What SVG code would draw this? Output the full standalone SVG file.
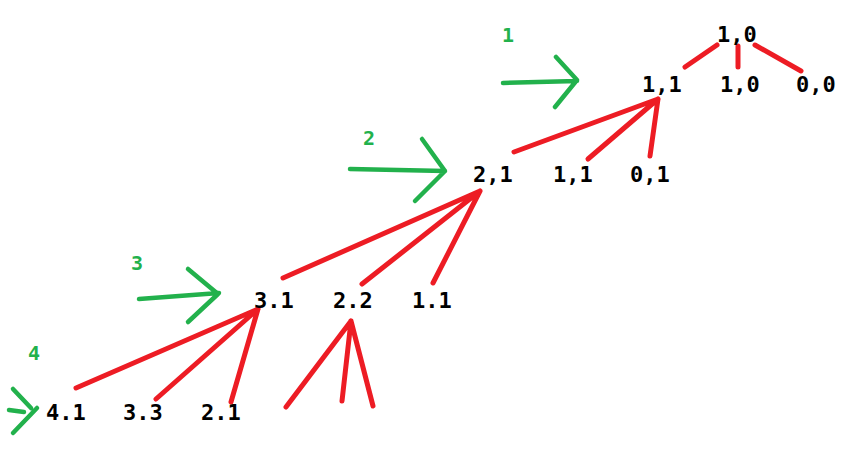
<svg xmlns="http://www.w3.org/2000/svg" width="865" height="459" viewBox="0 0 865 459">
<style>
.n{font-family:"DejaVu Sans Mono","Liberation Mono",monospace;font-size:22px;font-weight:bold;fill:#000}
.g{font-family:"DejaVu Sans Mono","Liberation Mono",monospace;font-size:20px;font-weight:bold;fill:#22B14C}
.e{stroke:#ED1C24;stroke-width:5;stroke-linecap:round;fill:none}
.a{stroke:#22B14C;stroke-width:4.5;stroke-linecap:round;stroke-linejoin:round;fill:none}
</style>
<rect width="865" height="459" fill="#fff"/>
<g id="connectors">
<path class="e" d="M685,67L717,45M738,46L738,67M755,45L801,71"/>
<path class="e" d="M658,99L514,152M658,99L588,159M658,99L650,156"/>
<path class="e" d="M480,191L283,278M480,191L362,284M480,191L433,283"/>
<path class="e" d="M258,309L76,388M258,309L156,399M258,309L231,402"/>
<path class="e" d="M351,321L286,407M351,321L342,401M351,321L373,406"/>
</g>
<g id="level-markers">
<g id="level1"><text class="g" x="502" y="42">1</text><path class="a" d="M503,83L577,81M556,57L577,80L555,107"/></g>
<g id="level2"><text class="g" x="363" y="145">2</text><path class="a" d="M350,169L445,171M422,139L445,171L415,201"/></g>
<g id="level3"><text class="g" x="131" y="270">3</text><path class="a" d="M139,299L219,293M188,269L218,294L188,322"/></g>
<g id="level4"><text class="g" x="28" y="360">4</text><path class="a" d="M9,410L24,412M13,389L31,408M37,408L13,433"/></g>
</g>
<g id="n-1-0-root"><text class="n" x="717" y="42">1,0</text></g>
<g id="n-1-1-a"><text class="n" x="642" y="92">1,1</text></g>
<g id="n-1-0-b"><text class="n" x="720" y="92">1,0</text></g>
<g id="n-0-0"><text class="n" x="796" y="92">0,0</text></g>
<g id="n-2-1-a"><text class="n" x="473" y="182">2,1</text></g>
<g id="n-1-1-b"><text class="n" x="553" y="182">1,1</text></g>
<g id="n-0-1"><text class="n" x="630" y="182">0,1</text></g>
<g id="n-3-1"><text class="n" x="254" y="308">3.1</text></g>
<g id="n-2-2"><text class="n" x="333" y="308">2.2</text></g>
<g id="n-1-1-c"><text class="n" x="412" y="308">1.1</text></g>
<g id="n-4-1"><text class="n" x="46" y="420">4.1</text></g>
<g id="n-3-3"><text class="n" x="123" y="420">3.3</text></g>
<g id="n-2-1-b"><text class="n" x="201" y="420">2.1</text></g>
</svg>
